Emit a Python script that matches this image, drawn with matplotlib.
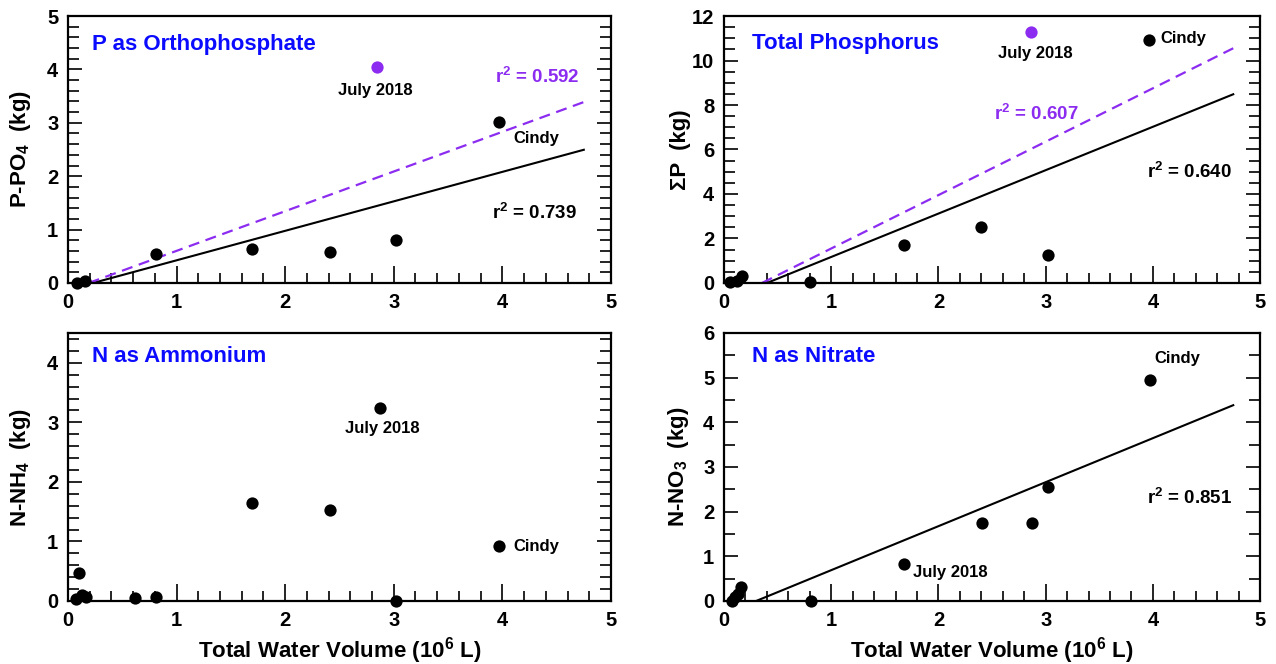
import matplotlib
matplotlib.use("Agg")
import matplotlib.pyplot as plt
from matplotlib.ticker import MultipleLocator

plt.rcParams["font.family"] = ["Liberation Sans", "DejaVu Sans"]
plt.rcParams["font.weight"] = "bold"
plt.rcParams["axes.labelweight"] = "bold"
plt.rcParams["mathtext.fontset"] = "custom"
plt.rcParams["mathtext.rm"] = "Liberation Sans:bold"
plt.rcParams["mathtext.it"] = "Liberation Sans:bold"
plt.rcParams["mathtext.bf"] = "Liberation Sans:bold"
plt.rcParams["mathtext.default"] = "rm"

PURPLE = "#8c2cf0"
BLUE = "#0b0bff"

# P as orthophosphate (kg) vs total water volume (10^6 L)
po4_x = [0.08, 0.16, 0.81, 1.69, 2.41, 3.02, 3.97]
po4_y = [0.00, 0.04, 0.54, 0.64, 0.58, 0.81, 3.02]
po4_july = [2.85, 4.04]
po4_fit = [0.552, -0.127]       # slope, intercept (July 2018 excluded)
po4_fit_all = [0.743, -0.141]   # slope, intercept (all events)

# total phosphorus
tp_x = [0.06, 0.12, 0.17, 0.80, 1.68, 2.40, 3.02, 3.96]
tp_y = [0.05, 0.08, 0.30, 0.03, 1.72, 2.51, 1.24, 10.94]
tp_july = [2.86, 11.26]
tp_fit = [1.95, -0.78]
tp_fit_all = [2.40, -0.85]

# ammonium
nh4_x = [0.07, 0.10, 0.13, 0.17, 0.62, 0.81, 1.69, 2.41, 2.87, 3.02, 3.97]
nh4_y = [0.03, 0.47, 0.10, 0.06, 0.05, 0.06, 1.64, 1.53, 3.24, 0.00, 0.92]

# nitrate
no3_x = [0.07, 0.10, 0.13, 0.16, 0.81, 1.68, 2.41, 2.87, 3.02, 3.97]
no3_y = [0.00, 0.09, 0.16, 0.31, 0.00, 0.82, 1.74, 1.74, 2.56, 4.94]
no3_fit = [0.985, -0.295]

fit_x_end = 4.75


def style_axes(ax, ymax, ymajor, yminor):
    ax.set_xlim(0, 5)
    ax.set_ylim(0, ymax)
    ax.xaxis.set_major_locator(MultipleLocator(1))
    ax.xaxis.set_minor_locator(MultipleLocator(0.2))
    ax.yaxis.set_major_locator(MultipleLocator(ymajor))
    ax.yaxis.set_minor_locator(MultipleLocator(yminor))
    ax.tick_params(axis="x", which="both", direction="in", top=False,
                   width=1.2, labelsize=14.5, pad=7)
    ax.tick_params(axis="x", which="major", length=12)
    ax.tick_params(axis="x", which="minor", length=7.5)
    ax.tick_params(axis="y", which="both", direction="in", left=True,
                   right=True, width=1.2, labelsize=14.5, pad=7)
    ax.tick_params(axis="y", which="major", length=10)
    ax.tick_params(axis="y", which="minor", length=8)
    for sp in ax.spines.values():
        sp.set_linewidth(1.6)


def fit_line(ax, fit, **kw):
    m, b = fit
    x0 = -b / m
    ax.plot([x0, fit_x_end], [0, m * fit_x_end + b], **kw)


def dots(ax, x, y, color="black"):
    ax.scatter(x, y, s=78, color=color, zorder=5, clip_on=False,
               linewidths=0)


fig = plt.figure(figsize=(12.76, 6.64), dpi=100)
ax1 = fig.add_axes([0.0533, 0.5738, 0.4255, 0.4021])
ax2 = fig.add_axes([0.5674, 0.5738, 0.4201, 0.4021])
ax3 = fig.add_axes([0.0533, 0.0949, 0.4255, 0.4036])
ax4 = fig.add_axes([0.5674, 0.0949, 0.4201, 0.4036])

# --- orthophosphate
style_axes(ax1, 5, 1, 0.2)
fit_line(ax1, po4_fit, color="black", lw=1.5)
fit_line(ax1, po4_fit_all, color=PURPLE, lw=1.6, ls=(0, (5, 3)))
dots(ax1, po4_x, po4_y)
dots(ax1, po4_july[0], po4_july[1], PURPLE)
ax1.text(0.044, 0.895, "P as Orthophosphate", transform=ax1.transAxes,
         color=BLUE, fontsize=16, va="center")
ax1.text(2.83, 3.61, "July 2018", fontsize=12, ha="center", va="center")
ax1.text(4.31, 2.71, "Cindy", fontsize=12, ha="center", va="center")
ax1.text(4.71, 3.86, "r$^2$ = 0.592", color=PURPLE, fontsize=13.5,
         ha="right", va="center")
ax1.text(4.69, 1.31, "r$^2$ = 0.739", fontsize=13.5, ha="right", va="center")
ax1.set_ylabel("P-PO$_4$  (kg)", fontsize=16)
ax1.yaxis.set_label_coords(-0.064, 0.5)

# --- total phosphorus
style_axes(ax2, 12, 2, 0.5)
fit_line(ax2, tp_fit, color="black", lw=1.5)
fit_line(ax2, tp_fit_all, color=PURPLE, lw=1.6, ls=(0, (5, 3)))
dots(ax2, tp_x, tp_y)
dots(ax2, tp_july[0], tp_july[1], PURPLE)
ax2.text(0.053, 0.896, "Total Phosphorus", transform=ax2.transAxes,
         color=BLUE, fontsize=16, va="center")
ax2.text(2.90, 10.3, "July 2018", fontsize=12, ha="center", va="center")
ax2.text(4.07, 11.0, "Cindy", fontsize=12, ha="left", va="center")
ax2.text(2.52, 7.6, "r$^2$ = 0.607", color=PURPLE, fontsize=13.5,
         ha="left", va="center")
ax2.text(4.74, 5.0, "r$^2$ = 0.640", fontsize=13.5, ha="right", va="center")
ax2.set_ylabel("\u03a3P  (kg)", fontsize=16)
ax2.yaxis.set_label_coords(-0.062, 0.5)

# --- ammonium
style_axes(ax3, 4.5, 1, 0.2)
dots(ax3, nh4_x, nh4_y)
ax3.text(0.045, 0.913, "N as Ammonium", transform=ax3.transAxes,
         color=BLUE, fontsize=16, va="center")
ax3.text(2.89, 2.9, "July 2018", fontsize=12, ha="center", va="center")
ax3.text(4.10, 0.92, "Cindy", fontsize=12, ha="left", va="center")
ax3.set_ylabel("N-NH$_4$  (kg)", fontsize=16)
ax3.yaxis.set_label_coords(-0.064, 0.5)
ax3.set_xlabel("Total Water Volume (10$^6$ L)", fontsize=16, labelpad=4)

# --- nitrate
style_axes(ax4, 6, 1, 0.5)
fit_line(ax4, no3_fit, color="black", lw=1.5)
dots(ax4, no3_x, no3_y)
ax4.text(0.053, 0.913, "N as Nitrate", transform=ax4.transAxes,
         color=BLUE, fontsize=16, va="center")
ax4.text(4.23, 5.44, "Cindy", fontsize=12, ha="center", va="center")
ax4.text(1.76, 0.64, "July 2018", fontsize=12, ha="left", va="center")
ax4.text(4.74, 2.30, "r$^2$ = 0.851", fontsize=13.5, ha="right", va="center")
ax4.set_ylabel("N-NO$_3$  (kg)", fontsize=16)
ax4.yaxis.set_label_coords(-0.062, 0.5)
ax4.set_xlabel("Total Water Volume (10$^6$ L)", fontsize=16, labelpad=4)

fig.savefig("out.png", dpi=100, facecolor="white")
plt.close(fig)
